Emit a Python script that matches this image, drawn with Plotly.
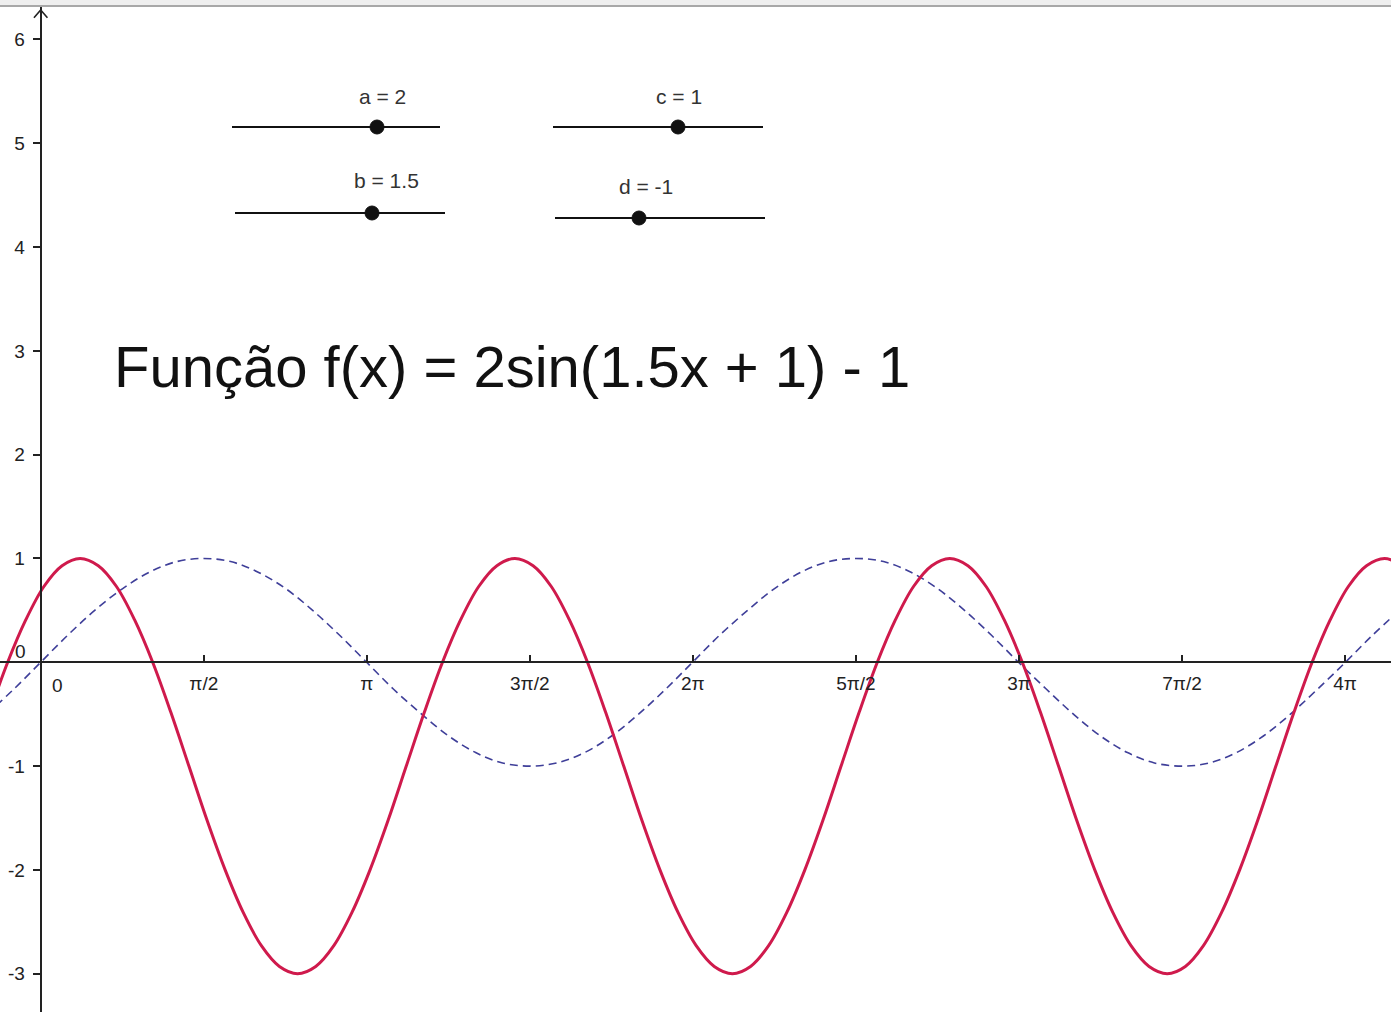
import plotly.graph_objects as go

W, H = 1391, 1012

# f(x) = 2sin(1.5x + 1) - 1 (curva vermelha)
f_x = [-0.667, -0.492, -0.318, -0.143, 0.031, 0.206, 0.380, 0.555, 0.730, 0.904,
       1.079, 1.253, 1.428, 1.602, 1.777, 1.951, 2.126, 2.300, 2.475, 2.650,
       2.824, 2.999, 3.173, 3.348, 3.522, 3.697, 3.871, 4.046, 4.220, 4.395,
       4.569, 4.744, 4.919, 5.093, 5.268, 5.442, 5.617, 5.791, 5.966, 6.140,
       6.315, 6.489, 6.664, 6.839, 7.013, 7.188, 7.362, 7.537, 7.711, 7.886,
       8.060, 8.235, 8.409, 8.584, 8.758, 8.933, 9.108, 9.282, 9.457, 9.631,
       9.806, 9.980, 10.155, 10.329, 10.504, 10.678, 10.853, 11.028, 11.202, 11.377,
       11.551, 11.726, 11.900, 12.075, 12.249, 12.424, 12.598, 12.773, 12.947, 13.122]
f_y = [-1, -0.48, 0, 0.41, 0.73, 0.93, 1, 0.93, 0.73, 0.41, 0, -0.48,
       -1, -1.52, -2, -2.41, -2.73, -2.93, -3, -2.93, -2.73, -2.41, -2, -1.52,
       -1, -0.48, 0, 0.41, 0.73, 0.93, 1, 0.93, 0.73, 0.41, 0, -0.48,
       -1, -1.52, -2, -2.41, -2.73, -2.93, -3, -2.93, -2.73, -2.41, -2, -1.52,
       -1, -0.48, 0, 0.41, 0.73, 0.93, 1, 0.93, 0.73, 0.41, 0, -0.48,
       -1, -1.52, -2, -2.41, -2.73, -2.93, -3, -2.93, -2.73, -2.41, -2, -1.52,
       -1, -0.48, 0, 0.41, 0.73, 0.93, 1, 0.93]

# sin(x) (curva azul tracejada)
g_x = [-0.52, -0.26, 0, 0.26, 0.52, 0.79, 1.05, 1.31, 1.57, 1.83, 2.09, 2.36, 2.62,
       2.88, 3.14, 3.40, 3.67, 3.93, 4.19, 4.45, 4.71, 4.97, 5.24, 5.50, 5.76, 6.02,
       6.28, 6.54, 6.81, 7.07, 7.33, 7.59, 7.85, 8.12, 8.38, 8.64, 8.90, 9.16, 9.42,
       9.69, 9.95, 10.21, 10.47, 10.73, 11.00, 11.26, 11.52, 11.78, 12.04, 12.30, 12.57,
       12.83, 13.09]
g_y = [-0.5, -0.26,
       0, 0.26, 0.5, 0.71, 0.87, 0.97, 1, 0.97, 0.87, 0.71, 0.5, 0.26,
       0, -0.26, -0.5, -0.71, -0.87, -0.97, -1, -0.97, -0.87, -0.71, -0.5, -0.26,
       0, 0.26, 0.5, 0.71, 0.87, 0.97, 1, 0.97, 0.87, 0.71, 0.5, 0.26,
       0, -0.26, -0.5, -0.71, -0.87, -0.97, -1, -0.97, -0.87, -0.71, -0.5, -0.26,
       0, 0.26, 0.5]

x_tick_vals = [1.571, 3.142, 4.712, 6.283, 7.854, 9.425, 10.996, 12.566]
x_tick_text = ["π/2", "π", "3π/2", "2π", "5π/2", "3π", "7π/2", "4π"]
y_tick_vals = [-3, -2, -1, 1, 2, 3, 4, 5, 6]
y_tick_text = ["-3", "-2", "-1", "1", "2", "3", "4", "5", "6"]

slider_labels = ["a = 2", "b = 1.5", "c = 1", "d = -1"]
title_text = "Função f(x) = 2sin(1.5x + 1) - 1"

x_range = [-0.392, 13.009]
y_range = [-3.369, 6.380]

# posição dos sliders em pixels (x0, x1, y da linha, x do ponto, x/y do rótulo)
slider_pos = [
    (232, 440, 127, 377, 382, 96),
    (235, 445, 213, 372, 386, 181),
    (553, 763, 127, 678, 679, 96),
    (555, 765, 218, 639, 646, 187),
]

FONT = "Arial, Liberation Sans, sans-serif"
RED = "#cf1a4c"
BLUE = "#3f3f99"


def px(x):
    return x / W


def py(y):
    return 1 - y / H


fig = go.Figure()
fig.add_trace(go.Scatter(
    x=g_x, y=g_y, mode="lines",
    line=dict(color=BLUE, width=1.6, dash="8px,5px", shape="spline", smoothing=1.0),
    hoverinfo="skip"
))
fig.add_trace(go.Scatter(
    x=f_x, y=f_y, mode="lines",
    line=dict(color=RED, width=3, shape="spline", smoothing=1.0),
    hoverinfo="skip"
))

shapes = []
# barra cinza no topo
shapes.append(dict(type="rect", xref="paper", yref="paper", x0=0, x1=1, y0=py(5), y1=1.0,
                   fillcolor="#efefef", line=dict(width=0), layer="above"))
shapes.append(dict(type="line", xref="paper", yref="paper", x0=0, x1=1, y0=py(6), y1=py(6),
                   line=dict(color="#a8a8a8", width=2), layer="above"))
# seta do eixo y
shapes.append(dict(type="path", xref="x", yref="y",
                   path="M -0.065,6.21 L 0,6.285 L 0.065,6.21",
                   line=dict(color="#222222", width=1.6)))

annotations = []
for lab, (x0, x1, yl, xd, xt, yt) in zip(slider_labels, slider_pos):
    shapes.append(dict(type="line", xref="paper", yref="paper",
                       x0=px(x0), x1=px(x1), y0=py(yl), y1=py(yl),
                       line=dict(color="#111111", width=2)))
    shapes.append(dict(type="circle", xref="paper", yref="paper",
                       xsizemode="pixel", ysizemode="pixel",
                       xanchor=px(xd), yanchor=py(yl), x0=-7, x1=7, y0=-7, y1=7,
                       fillcolor="#111111", line=dict(color="#111111", width=1)))
    annotations.append(dict(x=px(xt), y=py(yt), xref="paper", yref="paper", text=lab,
                            showarrow=False, xanchor="center", yanchor="middle",
                            font=dict(family=FONT, size=21, color="#333333")))

annotations.append(dict(x=px(112), y=py(366), xref="paper", yref="paper", text=title_text,
                        showarrow=False, xanchor="left", yanchor="middle",
                        font=dict(family=FONT, size=58, color="#111111")))
# rótulos "0" na origem
annotations.append(dict(x=0, y=0, xref="x", yref="y", text="0", showarrow=False,
                        xshift=-20, yshift=11, font=dict(family=FONT, size=19, color="#222222")))
annotations.append(dict(x=0, y=0, xref="x", yref="y", text="0", showarrow=False,
                        xshift=17, yshift=-23, font=dict(family=FONT, size=19, color="#222222")))

fig.update_layout(
    width=W, height=H,
    margin=dict(l=0, r=0, t=0, b=0),
    paper_bgcolor="white", plot_bgcolor="white",
    showlegend=False,
    shapes=shapes,
    annotations=annotations,
    xaxis=dict(
        range=x_range, anchor="free",
        position=(0 - y_range[0]) / (y_range[1] - y_range[0]),
        showgrid=False, zeroline=False,
        showline=True, linecolor="#222222", linewidth=2,
        ticks="inside", ticklen=6, tickwidth=1.5, tickcolor="#222222",
        tickvals=x_tick_vals, ticktext=x_tick_text,
        tickfont=dict(family=FONT, size=19, color="#222222"),
        ticklabelstandoff=4,
    ),
    yaxis=dict(
        range=y_range, anchor="free",
        position=(0 - x_range[0]) / (x_range[1] - x_range[0]),
        showgrid=False, zeroline=False,
        showline=True, linecolor="#222222", linewidth=2,
        ticks="outside", ticklen=7, tickwidth=1.5, tickcolor="#222222",
        tickvals=y_tick_vals, ticktext=y_tick_text,
        tickfont=dict(family=FONT, size=19, color="#222222"),
        ticklabelstandoff=4,
    ),
)

fig.write_html("out.html", config={"displayModeBar": False},
               post_script="document.body.style.margin='0';")
